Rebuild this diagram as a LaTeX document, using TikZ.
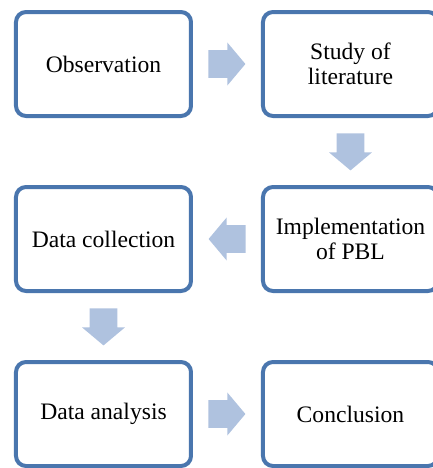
\documentclass[tikz,border=0pt]{standalone}
\usepackage{fontspec}
\setmainfont{Liberation Serif}
\usetikzlibrary{positioning,shapes.arrows,calc}
\definecolor{stageblue}{HTML}{4A76AE}
\definecolor{arrowblue}{HTML}{AFC2DF}
\tikzset{
  stage/.style={draw=stageblue, line width=2pt, rounded corners=5pt, fill=white,
    minimum width=87.5pt, minimum height=52pt, align=center,
    font=\fontsize{11.8}{12.3}\selectfont},
  flow/.style={single arrow, fill=arrowblue, draw=none, anchor=tail,
    inner xsep=0pt, inner ysep=6.75pt, minimum height=18.5pt,
    single arrow head extend=3.75pt, single arrow tip angle=100}
}

\begin{document}
\begin{tikzpicture}[x=0.5pt, y=-0.5pt, node distance=33.5pt and 34pt]
\useasboundingbox (0,0) rectangle (433,468);
\node[stage] (obs) at (103.5,64) {Observation};
\node[stage, right=of obs] (lit) {Study of\\literature};
\node[stage, below=of lit] (pbl) {Implementation\\of PBL};
\node[stage, left=of pbl]  (col) {Data collection};
\node[stage, below=of col] (ana) {Data analysis};
\node[stage, right=of ana] (con) {Conclusion};
% block arrows, tail a little off each stage
\node[flow] (obslit) at ($(obs.east)+(7.5pt,0pt)$) {};
\node[flow, rotate=-90] (litpbl) at ($(lit.south)+(0pt,-7.5pt)$) {};
\node[flow, rotate=180] (pblcol) at ($(pbl.west)+(-7.5pt,0pt)$) {};
\node[flow, rotate=-90] (colana) at ($(col.south)+(0pt,-7.5pt)$) {};
\node[flow] (anacon) at ($(ana.east)+(7.5pt,0pt)$) {};
\end{tikzpicture}
\end{document}
